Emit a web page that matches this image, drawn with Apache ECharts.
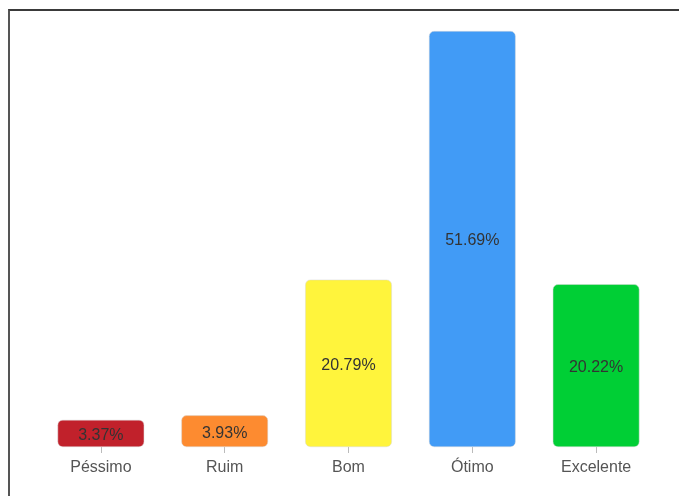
<!DOCTYPE html>
<html>
<head>
<meta charset="utf-8">
<script src="https://cdn.jsdelivr.net/npm/echarts@6/dist/echarts.min.js"></script>
<style>
html,body{margin:0;padding:0;width:679px;height:496px;overflow:hidden;background:#fff;}
#frame{position:absolute;left:8px;top:9px;width:800px;height:600px;border-top:2px solid #3a3a3a;border-left:2px solid #555;box-sizing:border-box;}
#chart{position:absolute;left:0;top:0;width:679px;height:496px;}
</style>
</head>
<body>
<div id="frame"></div>
<div id="chart"></div>
<script>
const categories = ['Péssimo', 'Ruim', 'Bom', 'Ótimo', 'Excelente'];
const values = [3.37, 3.93, 20.79, 51.69, 20.22];
const colors = ['#c1212b', '#fd8b30', '#fff43c', '#419bf6', '#00cf35'];

const chart = echarts.init(document.getElementById('chart'));
chart.setOption({
  animation: false,
  grid: {left: 39, right: 21, top: 31, bottom: 49},
  xAxis: {
    type: 'category',
    data: categories,
    axisLine: {show: false},
    axisTick: {show: true, alignWithLabel: true, length: 6, lineStyle: {color: '#bbb'}},
    axisLabel: {color: '#555', fontSize: 16, fontFamily: 'Arial, Liberation Sans, sans-serif', margin: 13}
  },
  yAxis: {type: 'value', min: 0, max: 'dataMax', show: false, splitLine: {show: false}},
  series: [{
    type: 'bar',
    barWidth: '70%',
    data: values.map((v, i) => ({value: v, itemStyle: {color: colors[i]}})),
    itemStyle: {borderRadius: 5, borderColor: '#d8d8d8', borderWidth: 0.5},
    label: {
      show: true, position: 'inside', offset: [0, 2], color: '#333', fontSize: 16,
      fontFamily: 'Arial, Liberation Sans, sans-serif',
      formatter: p => p.value.toFixed(2) + '%'
    }
  }]
});
</script>
</body>
</html>
